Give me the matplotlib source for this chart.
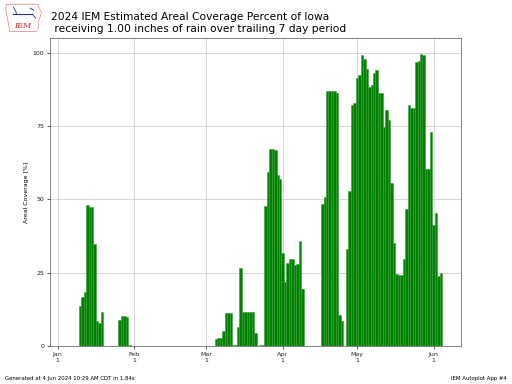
import datetime
import numpy as np
import matplotlib
matplotlib.use("Agg")
import matplotlib.pyplot as plt
import matplotlib.dates as mdates
from matplotlib.patches import Polygon

# %% datos: porcentaje de Iowa con >= 1.00" en 7 dias, 1 ene .. 4 jun 2024
fecha_inicio = datetime.date(2024, 1, 1)
ene_a = [0] * 9
ene_b = [13.6, 16.6, 18.4, 48.0, 47.3, 47.3, 34.7, 8.5, 7.9, 11.6]
ene_c = [0] * 6
ene_d = [8.8, 10.2, 10.2, 10.0, 0.5]
feb = [0] * 34
mar = [2.4, 2.7, 2.7, 5.1, 11.2, 11.2, 11.2, 0.3, 0.3, 6.4, 26.5,
       11.5, 11.5, 11.5, 11.5, 11.5, 4.4, 0, 0.4, 0.4, 47.6, 59.2,
       67.3, 67.3, 66.7, 58.3, 57.1, 31.6, 21.8, 28.2, 29.6, 29.6,
       27.6, 27.9, 35.7, 19.4]
abr_a = [0] * 7
abr_b = [48.3, 50.7, 87.1, 87.1, 87.1, 87.1, 86.1, 10.5, 8.5, 0,
         33.0, 53.0, 82.3, 83.0]
may_a = [91.5, 92.5, 99.3, 98.0, 94.6, 88.4, 89.1, 93.2, 94.2, 86.4,
         86.1, 74.8, 80.6, 76.9]
may_b = [55.4, 35.0, 24.5, 24.1, 24.1, 29.6, 46.6, 82.3, 81.0, 81.0,
         96.9, 97.3, 99.7, 99.3, 60.2, 60.2, 73.1, 41.2, 45.2, 23.8, 24.8]

cobertura = ene_a + ene_b + ene_c + ene_d + feb + mar + abr_a + abr_b + may_a + may_b
fechas = [fecha_inicio + datetime.timedelta(days=i) for i in range(len(cobertura))]

titulo = ("2024 IEM Estimated Areal Coverage Percent of Iowa\n"
          " receiving 1.00 inches of rain over trailing 7 day period")

# %% figura
fig = plt.figure(figsize=(8, 6), dpi=64)
ax = fig.add_axes([0.098, 0.099, 0.802, 0.802])

ax.bar(fechas, cobertura, width=1, fc="green", ec="#35a035", lw=0.6, zorder=2)

ax.set_ylim(0, 105)
ax.set_yticks([0, 25, 50, 75, 100])
ax.set_xlim(datetime.date(2023, 12, 29) + datetime.timedelta(hours=14),
            datetime.date(2024, 6, 12) + datetime.timedelta(hours=8))
ax.xaxis.set_major_locator(mdates.MonthLocator())
ax.xaxis.set_major_formatter(mdates.DateFormatter("%b\n%-d"))
ax.tick_params(labelsize=7, colors="#222222", length=3)
ax.grid(True, color="#c8c8c8", lw=0.8, zorder=0)
ax.set_axisbelow(True)
ax.set_ylabel("Areal Coverage [%]", fontsize=7)
for s in ax.spines.values():
    s.set_color("#555555")

fig.text(0.1, 0.968, titulo, fontsize=12, va="top", ha="left")
fig.text(0.01, 0.01, "Generated at 4 Jun 2024 10:29 AM CDT in 1.84s", fontsize=6)
fig.text(0.99, 0.01, "IEM Autoplot App #4", fontsize=6, ha="right")

# logo IEM (aproximado)
logo = fig.add_axes([0.01, 0.913, 0.074, 0.08])
logo.set_xlim(0, 10)
logo.set_ylim(0, 8)
logo.axis("off")
logo.add_patch(Polygon([[0.3, 7.6], [8.6, 7.6], [9.0, 6.5], [9.6, 5.5], [9.2, 4.2],
                        [8.7, 3.0], [8.9, 1.6], [8.2, 0.5], [1.2, 0.5], [0.9, 2.5],
                        [0.5, 4.5], [0.2, 6.2]],
                       closed=True, fc="white", ec="#e08080", lw=0.8))
logo.plot([2.2, 7.2], [5.0, 5.0], color="#2030c0", lw=1.2)
logo.plot([2.2, 2.8, 3.0], [6.8, 5.8, 5.0], color="#2030c0", lw=1.0)
logo.plot([7.2, 8.0], [5.0, 4.0], color="#2030c0", lw=1.0)
logo.plot([6.6, 7.6], [6.6, 6.0], color="#2030c0", lw=1.0)
logo.text(4.6, 1.8, "IEM", color="#d02020", fontsize=9, family="DejaVu Serif",
          style="italic", ha="center", va="center")

fig.savefig("out.png", dpi=64)
